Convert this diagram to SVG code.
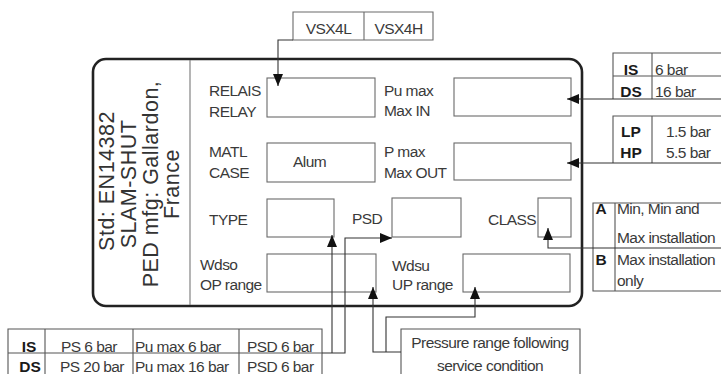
<svg xmlns="http://www.w3.org/2000/svg" width="721" height="374" viewBox="0 0 721 374">
<defs>
<style>
.t{font-family:"Liberation Sans",Arial,sans-serif;font-size:15.5px;letter-spacing:-0.55px;fill:#3a3a3a}
.b{font-family:"Liberation Sans",Arial,sans-serif;font-size:15.5px;font-weight:bold;fill:#1a1a1a;text-anchor:middle}
.m{text-anchor:middle}
.big{font-family:"Liberation Sans",Arial,sans-serif;font-size:21.5px;letter-spacing:0.5px;fill:#333;text-anchor:middle}
.box{fill:none;stroke:#6a6a6a;stroke-width:1.1}
.tab{fill:none;stroke:#555;stroke-width:1.1}
.con{fill:none;stroke:#333;stroke-width:1.1}
.arr{marker-end:url(#ah)}
</style>
<marker id="ah" viewBox="0 0 12 10" refX="12" refY="5" markerWidth="12" markerHeight="10" markerUnits="userSpaceOnUse" orient="auto">
<path d="M0,0 L12,5 L0,10 z" fill="#111"/>
</marker>
</defs>
<rect width="721" height="374" fill="#fff"/>

<g id="plate">
<rect x="93" y="59" width="489" height="247" rx="13" ry="13" fill="none" stroke="#222" stroke-width="2.6"/>
<line x1="190" y1="60" x2="190" y2="305" stroke="#777" stroke-width="1.1"/>
</g>

<g id="side-text">
<text class="big" transform="translate(113.5,181) rotate(-90)">Std: EN14382</text>
<text class="big" transform="translate(136,184) rotate(-90)">SLAM-SHUT</text>
<text class="big" transform="translate(158,184) rotate(-90)">PED mfg: Gallardon,</text>
<text class="big" transform="translate(179,184) rotate(-90)">France</text>
</g>

<g id="vsx">
<path class="box" d="M293,12 H433 V40 H293 Z M364,12 V40"/>
<text class="t m" x="328.5" y="33.5">VSX4L</text>
<text class="t m" x="398.5" y="33.5">VSX4H</text>
</g>

<g id="relais">
<text class="t" x="209" y="95.5">RELAIS</text>
<text class="t" x="209" y="116.5">RELAY</text>
<rect class="box" x="267" y="78" width="108" height="39"/>
</g>

<g id="pumax">
<text class="t" x="384" y="95.5">Pu max</text>
<text class="t" x="384" y="115.5">Max IN</text>
<rect class="box" x="454" y="78" width="117" height="38"/>
</g>

<g id="matl">
<text class="t" x="209" y="157">MATL</text>
<text class="t" x="209" y="177.5">CASE</text>
<rect class="box" x="267" y="143" width="108" height="39"/>
<text class="t" x="293" y="167">Alum</text>
</g>

<g id="pmax">
<text class="t" x="384" y="157">P max</text>
<text class="t" x="384" y="178">Max OUT</text>
<rect class="box" x="454" y="143" width="117" height="37"/>
</g>

<g id="type">
<text class="t" x="209" y="225">TYPE</text>
<rect class="box" x="267" y="199" width="67" height="38"/>
</g>

<g id="psd">
<text class="t" x="352" y="224">PSD</text>
<rect class="box" x="392" y="198" width="69" height="39"/>
</g>

<g id="class">
<text class="t" x="488" y="225">CLASS</text>
<rect class="box" x="538" y="198" width="33" height="39"/>
</g>

<g id="wdso">
<text class="t" x="200" y="270">Wdso</text>
<text class="t" x="200" y="290">OP range</text>
<rect class="box" x="267" y="254" width="109" height="38"/>
</g>

<g id="wdsu">
<text class="t" x="392" y="271">Wdsu</text>
<text class="t" x="392" y="290">UP range</text>
<rect class="box" x="463" y="254" width="107" height="38"/>
</g>

<g id="table-in">
<path class="tab" d="M721,53 H613 V99 M613,76 H721 M652,53 V99"/>
<text class="b" x="631" y="74.5">IS</text>
<text class="b" x="631" y="96.5">DS</text>
<text class="t" x="655" y="74.5">6 bar</text>
<text class="t" x="655" y="96.5">16 bar</text>
</g>

<g id="table-out">
<path class="tab" d="M721,116 H613 V163 M652,116 V163"/>
<text class="b" x="631" y="137">LP</text>
<text class="b" x="631" y="158">HP</text>
<text class="t" x="666" y="137">1.5 bar</text>
<text class="t" x="666" y="158">5.5 bar</text>
</g>

<g id="table-class">
<path class="tab" d="M721,203 H593 V291 H721 M615,203 V291"/>
<text class="b" x="601" y="214">A</text>
<text class="t" x="617" y="214">Min, Min and</text>
<text class="t" x="617" y="243">Max installation</text>
<text class="b" x="601" y="265">B</text>
<text class="t" x="617" y="265">Max installation</text>
<text class="t" x="617" y="286">only</text>
</g>

<g id="table-ps">
<path class="tab" d="M8,376 V329 H322 V376 M45,329 V376 M133,329 V376 M239,329 V376 M8,353 H322"/>
<text class="b" x="29" y="351.5">IS</text>
<text class="b" x="30" y="371.5">DS</text>
<text class="t" x="61" y="351.5">PS 6 bar</text>
<text class="t" x="60" y="371.5">PS 20 bar</text>
<text class="t" x="135" y="351.5">Pu max 6 bar</text>
<text class="t" x="135" y="371.5">Pu max 16 bar</text>
<text class="t" x="247" y="351.5">PSD 6 bar</text>
<text class="t" x="247" y="371.5">PSD 6 bar</text>
</g>

<g id="pressure-note">
<path class="tab" d="M401,376 V329 H580 V376"/>
<text class="t m" x="490" y="348">Pressure range following</text>
<text class="t m" x="490" y="371">service condition</text>
</g>

<g id="connectors">
<path class="con arr" d="M293,40 H278 V86"/>
<path class="con arr" d="M721,99 H567"/>
<path class="con arr" d="M721,163 H567"/>
<path class="con arr" d="M721,248 H548 V228"/>
<path class="con arr" d="M332,353 V235"/>
<path class="con arr" d="M322,353 H345 V238 H392"/>
<path class="con arr" d="M401,352 H373 V287"/>
<path class="con arr" d="M386,352 V317 H475 V287"/>
</g>
</svg>
